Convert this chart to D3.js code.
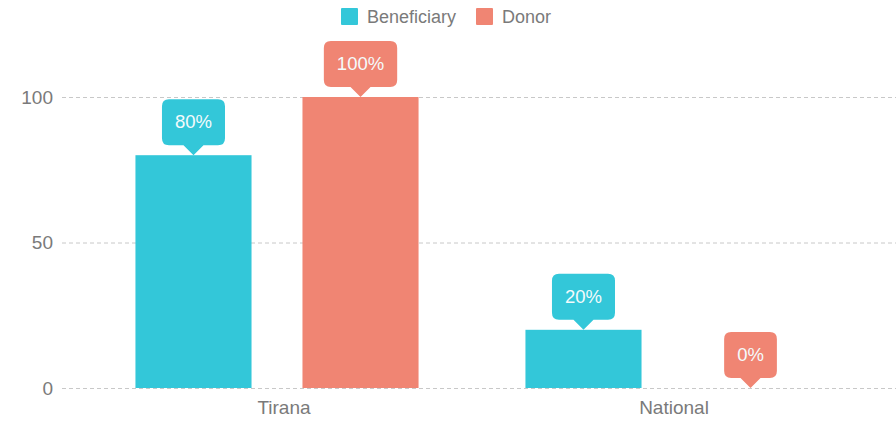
<!DOCTYPE html>
<html>
<head>
<meta charset="utf-8">
<script src="https://cdn.jsdelivr.net/npm/d3@7"></script>
<style>
  body { margin: 0; background: #fff; font-family: "Liberation Sans", Arial, sans-serif; }
  .tick text { fill: #7a7a7a; font-size: 19px; font-family: "Liberation Sans", Arial, sans-serif; }
  .grid line { stroke: #c8c8c8; stroke-dasharray: 4,3; }
  .label-text { fill: #f4fbfc; font-size: 18.5px; }
  .legend-text { fill: #7a7a7a; font-size: 18px; }
</style>
</head>
<body>
<div id="chart"></div>
<script>
var categories = ["Tirana", "National"],
  series = ["Beneficiary", "Donor"],
  colors = ["#33c7d9", "#f08573"];

var beneficiary = [80, 20],
  donor = [100, 0];

var yTicks = [0, 50, 100];

var width = 896, height = 421;
var margin = {top: 97, right: 34, bottom: 33, left: 82};

var svg = d3.select("#chart").append("svg")
    .attr("width", width)
    .attr("height", height);

var x = d3.scaleBand()
  .domain(categories)
  .range([margin.left, width - margin.right]);

var xInner = d3.scaleBand()
  .domain(series)
  .range([0, x.bandwidth()])
  .paddingInner(0.305)
  .paddingOuter(0.32);

var y = d3.scaleLinear()
  .domain([0, 100])
  .range([height - margin.bottom, margin.top]);

// gridlines
svg.append("g")
    .attr("class", "grid")
  .selectAll("line")
    .data(yTicks)
  .enter().append("line")
    .attr("x1", 62)
    .attr("x2", width)
    .attr("y1", function(d){ return y(d) + 0.5; })
    .attr("y2", function(d){ return y(d) + 0.5; });

// y axis labels
var yAxis = svg.append("g")
    .attr("transform", "translate(53,0)")
    .call(d3.axisLeft(y).tickValues(yTicks).tickSize(0).tickPadding(0));
yAxis.select(".domain").remove();

// x axis labels
var xAxis = svg.append("g")
    .attr("transform", "translate(7," + (height - margin.bottom) + ")")
    .call(d3.axisBottom(x).tickSize(0).tickPadding(13));
xAxis.select(".domain").remove();

var rows = categories.map(function(c, i){
  return [
    {cat: c, key: series[0], value: beneficiary[i], color: colors[0]},
    {cat: c, key: series[1], value: donor[i], color: colors[1]}
  ];
});
var flat = [].concat.apply([], rows);

// bars
svg.selectAll(".bar")
    .data(flat)
  .enter().append("rect")
    .attr("class", "bar")
    .attr("x", function(d){ return x(d.cat) + xInner(d.key); })
    .attr("y", function(d){ return y(d.value); })
    .attr("width", xInner.bandwidth())
    .attr("height", function(d){ return y(0) - y(d.value); })
    .attr("fill", function(d){ return d.color; });

// value bubbles
var bh = 46, tip = 10, r = 7, pad = 13;
var bubble = svg.selectAll(".bubble")
    .data(flat)
  .enter().append("g")
    .attr("class", "bubble")
    .attr("transform", function(d){
      var cx = x(d.cat) + xInner(d.key) + xInner.bandwidth() / 2;
      return "translate(" + cx + "," + y(d.value) + ")";
    });

var path = bubble.append("path")
    .attr("fill", function(d){ return d.color; });

var txt = bubble.append("text")
    .attr("class", "label-text")
    .attr("text-anchor", "middle")
    .attr("y", -tip - bh / 2 + 6)
    .text(function(d){ return d.value + "%"; });

txt.each(function(d){ d.tw = this.getComputedTextLength(); });

path.attr("d", function(d){
  var bw = d.tw + pad * 2;
  var l = -bw / 2, rr = bw / 2, b = -tip, t = -tip - bh;
  return "M" + (l + r) + "," + t +
    "H" + (rr - r) + "Q" + rr + "," + t + " " + rr + "," + (t + r) +
    "V" + (b - r) + "Q" + rr + "," + b + " " + (rr - r) + "," + b +
    "H" + tip + "L0,0L" + (-tip) + "," + b +
    "H" + (l + r) + "Q" + l + "," + b + " " + l + "," + (b - r) +
    "V" + (t + r) + "Q" + l + "," + t + " " + (l + r) + "," + t + "Z";
});

// legend
var legend = svg.append("g")
    .attr("class", "legend")
  .selectAll("g")
    .data(series)
  .enter().append("g")
    .attr("transform", function(d, i){ return "translate(" + [341, 476][i] + ",8)"; });

legend.append("rect")
    .attr("width", 17)
    .attr("height", 17)
    .attr("rx", 1)
    .attr("fill", function(d, i){ return colors[i]; });

legend.append("text")
    .attr("class", "legend-text")
    .attr("x", 26)
    .attr("y", 15)
    .text(function(d){ return d; });
</script>
</body>
</html>
